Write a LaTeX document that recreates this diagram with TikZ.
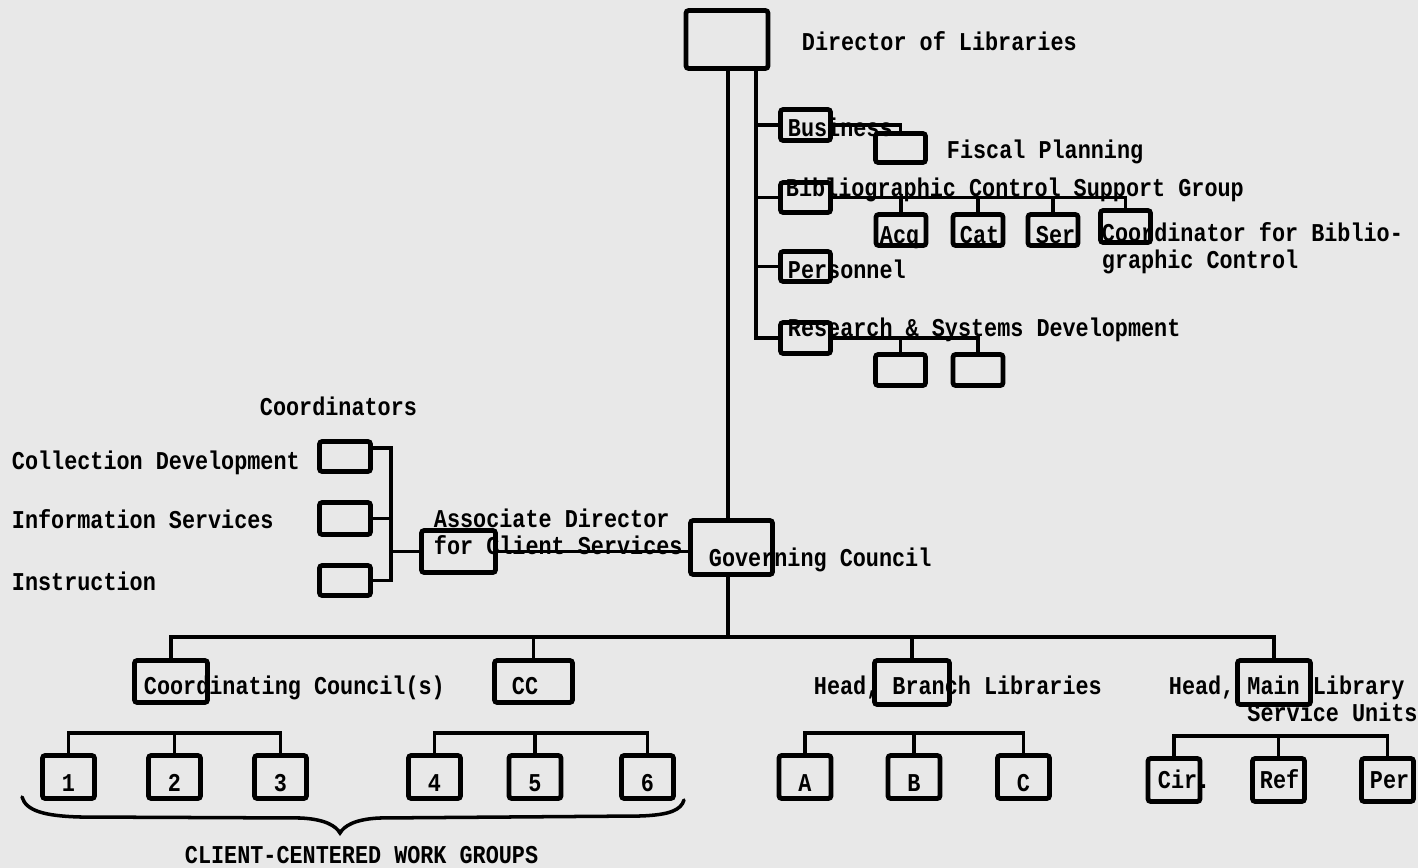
\documentclass[tikz,border=0pt]{standalone}
\usepackage{fontspec}
\newfontfamily\tw{Liberation Mono}[FakeStretch=0.85]
\usetikzlibrary{positioning,calc}

\newcommand\lblfont{\tw\bfseries\fontsize{14.6pt}{15.3pt}\selectfont}
\tikzset{
  box/.style={draw, line width=2.7pt, rounded corners=1.5pt, inner sep=0pt,
    minimum width=1cm, minimum height=0.62cm},
  wbox/.style={box, minimum width=1.04cm, minimum height=0.86cm,
    font=\lblfont, text height=17pt, text depth=0pt},
  lbl/.style={anchor=west, inner sep=0pt, font=\lblfont, text height=9pt, text depth=2pt},
  lbltwo/.style={anchor=west, inner sep=0pt, font=\lblfont, align=left},
}

\begin{document}
\begin{tikzpicture}[x=0.02cm, y=-0.02cm, line width=2.2pt]
  \fill[black!9] (0,0) rectangle (1418,868);
  \useasboundingbox (0,0) rectangle (1418,868);

  % director and the staff offices
  \node[box, minimum width=1.64cm, minimum height=1.16cm] (dir) at (727,39.5) {};
  \node[box] (bus) at (805.5,125) {};
  \node[box, minimum height=0.58cm] (fis) at (900.5,148) {};
  \node[box, minimum height=0.6cm] (bib) at (805.5,197.5) {};
  \foreach \n/\x in {acq/901, cat/978, ser/1053}
    \node[box] (\n) at (\x,230) {};
  \node[box, minimum height=0.64cm] (crd) at (1125.5,226.5) {};
  \node[box, minimum height=0.6cm] (pers) at (805.5,266.5) {};
  \node[box] (res) at (805.5,338) {};
  \node[box] (rs1) at (900.5,370) {};
  \node[box] (rs2) at (978,370) {};

  \node[lbl] at (800,44) {Director of Libraries};
  \node[lbl] at (786,130) {Business};
  \node[lbl] at (945,152) {Fiscal Planning};
  \node[lbl] at (784,190) {Bibliographic Control Support Group};
  \node[lbl] at (878,237) {Acq.};
  \node[lbl] at (958,237) {Cat};
  \node[lbl] at (1034,237) {Ser};
  \node[lbltwo] at (1100,248) {Coordinator for Biblio-\\graphic Control};
  \node[lbl] at (786,272) {Personnel};
  \node[lbl] at (786,330) {Research \& Systems Development};

  \coordinate (staff) at (756,71);
  \draw (staff) |- (res.west);
  \foreach \b in {bus,bib,pers}
    \draw (staff |- \b.west) -- (\b.west);
  \draw (bus.east) -| (fis.north);
  \draw (bib.east) -| (crd.north);
  \foreach \b in {acq,cat,ser}
    \draw (\b.north) -- (\b.north |- bib.east);
  \draw (res.east) -| (rs2.north);
  \draw (rs1.north) -- (rs1.north |- res.east);

  % client services side
  \node[box, minimum width=1.02cm, minimum height=0.6cm] (cd1) at (345,456.5) {};
  \node[box, minimum width=1.02cm, minimum height=0.64cm] (cd2) at (345,518.5) {};
  \node[box, minimum width=1.02cm, minimum height=0.6cm] (cd3) at (345,580.5) {};
  \node[box, minimum width=1.48cm, minimum height=0.84cm] (asc) at (458.5,551.5) {};
  \node[box, minimum width=1.64cm, minimum height=1.08cm] (gov) at (731.5,547.5) {};

  \node[lbl] at (258,409) {Coordinators};
  \node[lbl] at (10,463) {Collection Development};
  \node[lbl] at (10,522) {Information Services};
  \node[lbl] at (10,584) {Instruction};
  \node[lbltwo] at (432,532) {Associate Director\\for Client Services};
  \node[lbl] at (707,560) {Governing Council};

  \coordinate (cv) at (391,448);
  \draw (cd1.east |- cv) -- (cv) |- (cd3.east);
  \draw (cd2.east) -- (cd2.east -| cv);
  \draw (asc.west) -- (asc.west -| cv);
  \draw (asc.east) -- (asc.east -| gov.west);

  % the spine
  \coordinate (bar) at (728,637);
  \draw (dir.south -| bar) -- (gov.north -| bar);
  \draw (gov.south -| bar) -- (bar);

  % councils and heads
  \node[box, minimum width=1.46cm, minimum height=0.84cm] (cc1) at (171,681.5) {};
  \node[box, minimum width=1.56cm, minimum height=0.84cm] (cc2) at (533.5,681.5) {};
  \node[box, minimum width=1.5cm, minimum height=0.88cm] (blib) at (912,682.5) {};
  \node[box, minimum width=1.46cm, minimum height=0.88cm] (mlib) at (1274,682.5) {};
  \draw (cc1.north) |- (bar) -| (mlib.north);
  \draw (cc2.north) -- (cc2.north |- bar);
  \draw (blib.north) -- (blib.north |- bar);

  \node[lbl] at (142,688) {Coordinating Council(s)};
  \node[lbl] at (510,688) {CC};
  \node[lbl] at (812,688) {Head, Branch Libraries};
  \node[lbltwo] at (1167,701) {Head, Main Library\\\phantom{Head, }Service Units};

  % work groups and units
  \foreach \n/\x/\t in {w1/68.5/1, w2/174.5/2, w3/280.5/3, w4/434.5/4, w5/535/5,
      w6/647.5/6, ba/805/A, bb/914/B, bc/1023.5/C}
    \node[wbox] (\n) at (\x,777) {\t};
  \foreach \n/\x in {cir/1174, ref/1278.5, peri/1387.5}
    \node[wbox] (\n) at (\x,780) {};
  \node[lbl] at (1156,782) {Cir.};
  \node[lbl] at (1258,782) {Ref};
  \node[lbl] at (1368,782) {Per};

  \foreach \l/\m/\r in {w1/w2/w3, w4/w5/w6, ba/bb/bc, cir/ref/peri} {
    \draw (\l.north) -- ++(0,-20) -| (\r.north);
    \draw (\m.north) -- ++(0,-20);
  }

  % brace under the six groups
  \draw[line width=2pt, line cap=round] (22,797) .. controls (26,811) and (45,816) .. (80,817)
    -- (300,818) .. controls (325,819) and (336,826) .. (340,833)
    .. controls (344,826) and (355,819) .. (380,818)
    -- (640,816) .. controls (670,815) and (681,810) .. (684,800);
  \node[lbl] at (183,857) {CLIENT-CENTERED WORK GROUPS};
\end{tikzpicture}
\end{document}
